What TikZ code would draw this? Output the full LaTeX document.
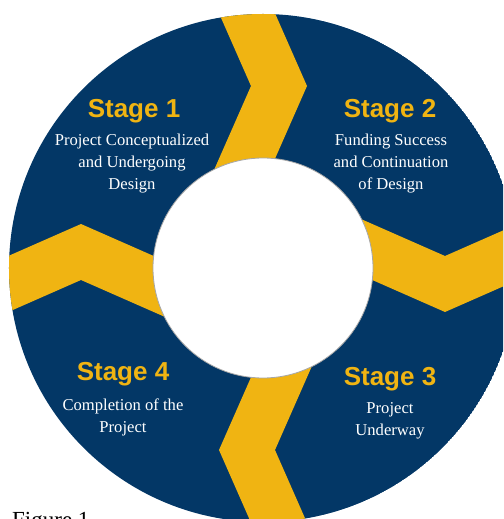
\documentclass[tikz,border=0pt]{standalone}
\usepackage{fontspec}
\setmainfont{Liberation Serif}
\setsansfont{Liberation Sans}
\usetikzlibrary{positioning}
\definecolor{navy}{RGB}{3,55,102}
\definecolor{gold}{RGB}{240,180,18}

\begin{document}
\begin{tikzpicture}[x=1pt,y=1pt,
    stage/.style={font=\sffamily\bfseries\fontsize{26}{30}\selectfont,text=gold,anchor=base,inner sep=0pt},
    desc/.style={font=\fontsize{16.6}{22}\selectfont,text=white,align=center,anchor=base,inner sep=0pt}
  ]
  \useasboundingbox (-263,-251) rectangle (240,268);
  \clip (-263,-251) rectangle (240,268);
  \def\rout{254}
  \def\rin{110}
  \begin{scope}
    \clip (0,0) circle (\rout);
    \fill[navy] (0,0) circle (\rout);
    % chevrons between the stages
    \foreach \a in {0,-90,-180,-270}
      \fill[gold,rotate=\a] (-56,282) -- (-12,182) -- (-56,82) -- (0,82) -- (44,182) -- (0,282) -- cycle;
  \end{scope}
  \fill[white,draw=gray!70,line width=0.8pt] (0,0) circle (\rin);
  % stage titles and text (desc sits on its last line)
  \node[stage] (s1) at (-129,150) {Stage 1};
  \node[desc] (d1) at (-131,78) {Project Conceptualized\\and Undergoing\\Design};
  \node[stage] (s2) at (127,150) {Stage 2};
  \node[desc] (d2) at (128,78) {Funding Success\\and Continuation\\of Design};
  \node[stage] (s3) at (127,-117) {Stage 3};
  \node[desc] (d3) at (127,-167) {Project\\Underway};
  \node[stage] (s4) at (-140,-112) {Stage 4};
  \node[desc] (d4) at (-140,-164) {Completion of the\\Project};
  \node[font=\fontsize{23}{26}\selectfont,anchor=base west,inner sep=0pt] (fig) at (-251,-259) {Figure 1};
\end{tikzpicture}
\end{document}
